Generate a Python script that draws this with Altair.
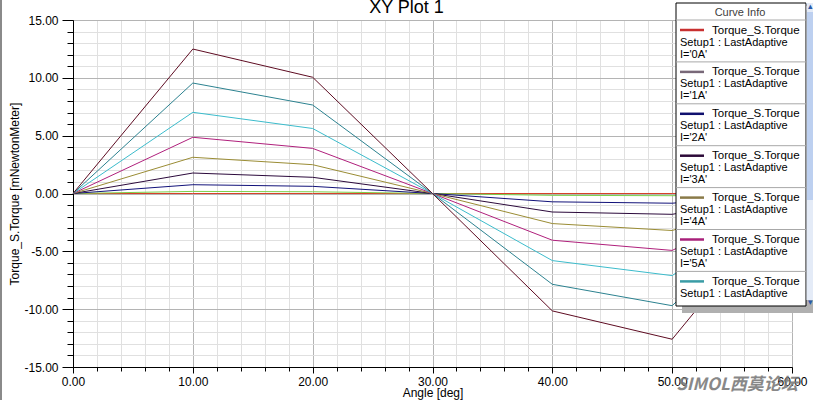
import altair as alt
import pandas as pd

FONT = "Liberation Sans"

# ---------------- data ----------------
angles = [0, 10, 20, 30, 40, 50, 60]
currents = ["0A", "1A", "2A", "3A", "4A", "5A", "6A", "7A", "8A"]
torque_0A = [0.0, 0.0, 0.0, 0.0, 0.0, 0.0, 0.0]
torque_1A = [0.0, 0.18, 0.15, 0.0, -0.16, -0.19, 0.0]
torque_2A = [0.0, 0.76, 0.62, 0.0, -0.72, -0.84, 0.0]
torque_3A = [0.0, 1.77, 1.40, 0.0, -1.60, -1.80, 0.0]
torque_4A = [0.0, 3.13, 2.49, 0.0, -2.60, -3.20, 0.0]
torque_5A = [0.0, 4.86, 3.90, 0.0, -4.04, -4.92, 0.0]
torque_6A = [0.0, 7.02, 5.62, 0.0, -5.80, -7.10, 0.0]
torque_7A = [0.0, 9.55, 7.65, 0.0, -7.85, -9.70, 0.0]
torque_8A = [0.0, 12.49, 10.05, 0.0, -10.15, -12.60, 0.0]
series = [torque_0A, torque_1A, torque_2A, torque_3A, torque_4A,
          torque_5A, torque_6A, torque_7A, torque_8A]
line_colors = ["#d8402a", "#7ccf4a", "#12127a", "#2c0a3c", "#9a8c34",
               "#b0207c", "#3cbccc", "#2c8290", "#5e0c22"]

legend_currents = ["0A", "1A", "2A", "3A", "4A", "5A", "6A"]
legend_colors = ["#c83030", "#786878", "#10106e", "#2c0a38", "#8a7a48",
                 "#a8207a", "#3a9ca6"]
legend_line1 = "Torque_S.Torque"
legend_line2 = "Setup1 : LastAdaptive"

x_ticks = list(range(0, 61, 2))
y_ticks = list(range(-15, 16, 1))

title_text = "XY Plot 1"
design_text = "Maxwell2DDesign1"
x_title = "Angle [deg]"
y_title = "Torque_S.Torque [mNewtonMeter]"
watermark = "SIMOL西莫论坛"

rows = []
for cur, vals in zip(currents, series):
    for a, v in zip(angles, vals):
        rows.append({"angle": a, "torque": v, "current": cur})
df = pd.DataFrame(rows)

leg_df = pd.DataFrame({
    "slot": list(range(len(legend_currents))),
    "current": legend_currents,
    "l1": [legend_line1] * len(legend_currents),
    "l2": [legend_line2] * len(legend_currents),
    "l3": ["I='" + c + "'" for c in legend_currents],
})

# ---------------- axes ----------------
MINUS = "\u2212"
x_axis = alt.Axis(
    values=x_ticks,
    labelExpr="datum.value % 10 === 0 ? format(datum.value, '.2f') : ''",
    labelFlush=False, labelOverlap=False,
    labelFont=FONT, labelFontSize=12, labelColor="black", labelPadding=3,
    tickSize={"condition": {"test": "datum.value % 10 === 0", "value": 6}, "value": 4},
    tickColor="black", domainColor="black",
    grid=True,
    gridColor={"condition": {"test": "datum.value % 10 === 0", "value": "#b4b4b4"}, "value": "#e0e0e0"},
    title=x_title, titleFont=FONT, titleFontSize=12, titleFontWeight="normal",
    titleColor="black", titlePadding=0,
)
y_axis = alt.Axis(
    values=y_ticks,
    labelExpr="datum.value % 5 === 0 ? replace(format(datum.value, '.2f'), '" + MINUS + "', '-') : ''",
    labelFlush=False, labelOverlap=False,
    labelFont=FONT, labelFontSize=12, labelColor="black", labelPadding=4,
    tickSize={"condition": {"test": "datum.value % 5 === 0", "value": 11}, "value": 6},
    tickColor="black", domainColor="black",
    grid=True,
    gridColor={"condition": {"test": "datum.value % 5 === 0", "value": "#b4b4b4"}, "value": "#e0e0e0"},
    title=y_title, titleFont=FONT, titleFontSize=12, titleFontWeight="normal",
    titleColor="black", titlePadding=2,
)

lines = alt.Chart(df).mark_line(strokeWidth=1).encode(
    x=alt.X("angle:Q", scale=alt.Scale(domain=[0, 60], nice=False, zero=False), axis=x_axis),
    y=alt.Y("torque:Q", scale=alt.Scale(domain=[-15, 15], nice=False), axis=y_axis),
    color=alt.Color("current:N", scale=alt.Scale(domain=currents, range=line_colors), legend=None),
)

one = pd.DataFrame({"t": [0]})

title = alt.Chart(one).mark_text(
    text=title_text, font=FONT, fontSize=18, align="center", baseline="alphabetic", color="black"
).encode(x=alt.value(333.5), y=alt.value(-7))

design = alt.Chart(one).mark_text(
    text=design_text, font=FONT, fontSize=12, align="left", baseline="alphabetic", color="black"
).encode(x=alt.value(669), y=alt.value(-7))

left_border = alt.Chart(one).mark_rule(color="#8a8a8a", strokeWidth=2).encode(
    x=alt.value(-72), y=alt.value(-20), y2=alt.value(380))

wm = alt.Chart(one).mark_text(
    text=watermark, font="Noto Sans CJK SC", fontSize=17, fontWeight="bold",
    fontStyle="italic", align="center", baseline="middle", color="#7c7c7c", opacity=0.9
).encode(x=alt.value(664), y=alt.value(365))

# ---------------- legend (Curve Info box) ----------------
shadow = alt.Chart(one).mark_rect(color="#b0b0b0").encode(
    x=alt.value(609), x2=alt.value(740), y=alt.value(-10), y2=alt.value(293))
box = alt.Chart(one).mark_rect(fill="white", stroke="black", strokeWidth=1).encode(
    x=alt.value(603), x2=alt.value(733), y=alt.value(-17), y2=alt.value(286))
track = alt.Chart(one).mark_rect(color="#e4ebf7").encode(
    x=alt.value(733.5), x2=alt.value(740), y=alt.value(-17), y2=alt.value(280))
thumb = alt.Chart(one).mark_rect(color="#bdd0f0").encode(
    x=alt.value(734), x2=alt.value(740), y=alt.value(-8), y2=alt.value(180))
arrow_up = alt.Chart(one).mark_text(text="▴", fontSize=9, color="#2a5aa8").encode(
    x=alt.value(737), y=alt.value(-14))
arrow_dn = alt.Chart(one).mark_text(text="▾", fontSize=9, color="#2a5aa8").encode(
    x=alt.value(737), y=alt.value(282))
header = alt.Chart(one).mark_text(
    text="Curve Info", font=FONT, fontSize=11, color="#404040", align="center", baseline="middle"
).encode(x=alt.value(667), y=alt.value(-7.5))

leg_y = alt.Scale(domain=[0, 7], range=[0, 293.3])

seps = alt.Chart(leg_df).mark_rule(color="#a8a8a8", strokeWidth=1).encode(
    y=alt.Y("slot:Q", scale=leg_y, axis=None), x=alt.value(603), x2=alt.value(733))

syms = alt.Chart(leg_df).transform_calculate(sy="datum.slot + 10 / 41.9").mark_rule(strokeWidth=2.5).encode(
    y=alt.Y("sy:Q", scale=leg_y, axis=None), x=alt.value(607), x2=alt.value(631),
    color=alt.Color("current:N", scale=alt.Scale(domain=legend_currents, range=legend_colors), legend=None))

def leg_text(field, xpos, dy, size, filt=None):
    c = alt.Chart(leg_df)
    if filt:
        c = c.transform_filter(filt)
    return c.mark_text(font=FONT, fontSize=size, color="black", align="left",
                       baseline="middle", dy=dy).encode(
        y=alt.Y("slot:Q", scale=leg_y, axis=None), x=alt.value(xpos), text=field + ":N")

t1 = leg_text("l1", 639, 10.5, 11.5)
t2 = leg_text("l2", 607, 22.5, 11)
t3 = leg_text("l3", 607, 34.5, 11, "datum.slot < 6")

chart = alt.layer(
    lines, left_border, title, design, wm, shadow, box, track, thumb, arrow_up, arrow_dn,
    header, seps, syms, t1, t2, t3
).resolve_scale(y="independent", color="independent").properties(
    width=719, height=347,
    autosize=alt.AutoSizeParams(type="none"),
    padding={"left": 73, "top": 20, "right": 21, "bottom": 33},
    background="white",
).configure_view(stroke="black", strokeWidth=1)

chart.save("out.html", embed_options={"renderer": "svg", "actions": False})
